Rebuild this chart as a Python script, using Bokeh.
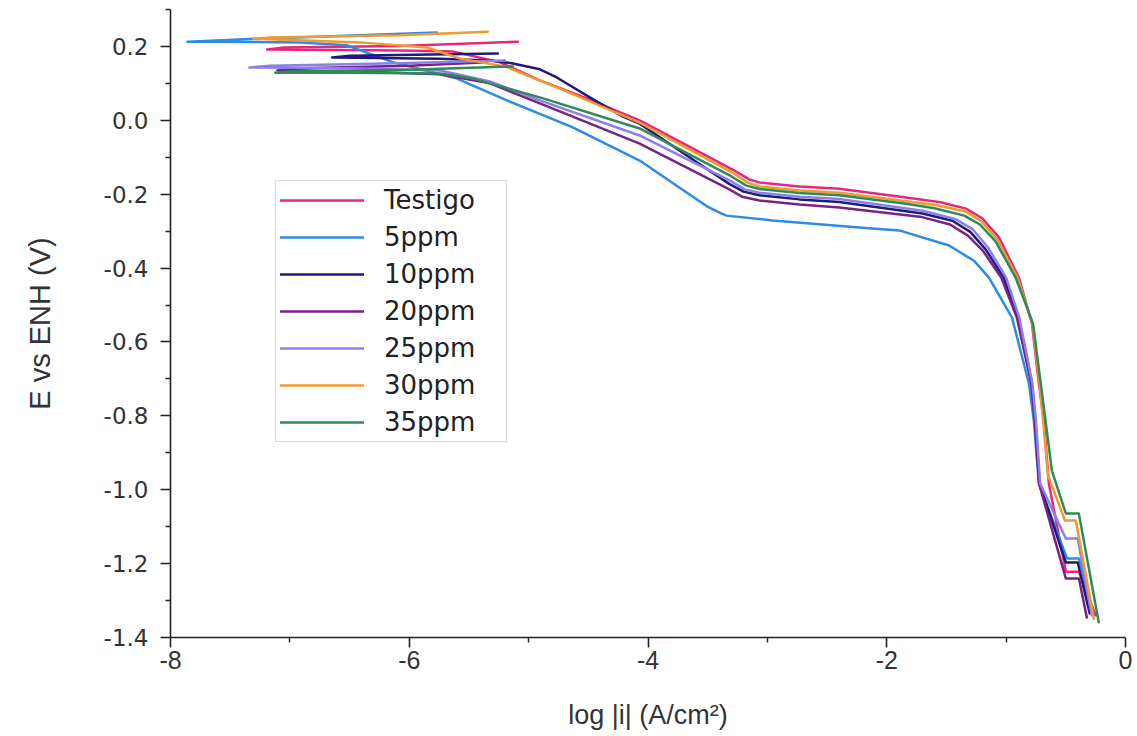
from bokeh.plotting import figure
from bokeh.models import Legend, LegendItem, FixedTicker, CustomJSTickFormatter, Range1d
from bokeh.embed import file_html
from bokeh.resources import INLINE

# ---------------- data (log|i| in A/cm2, E vs ENH in V) ----------------
series_names = ["Testigo", "5ppm", "10ppm", "20ppm", "25ppm", "30ppm", "35ppm"]
series_colors = ["#E5287D", "#2E8BE6", "#1F1A7A", "#7B2087", "#8A80E8", "#F39A2E", "#2E8B57"]

testigo_x = [-0.25, -0.39, -0.50, -0.642, -0.684, -0.726, -0.784, -0.893, -1.06, -1.20,
             -1.336, -1.55, -1.838, -2.398, -2.732, -3.067, -3.151, -3.276, -3.65, -4.07,
             -4.572, -4.906, -5.24, -5.63, -6.08, -7.19, -7.05, -6.08, -5.09]
testigo_y = [-1.34, -1.222, -1.222, -0.983, -0.813, -0.712, -0.550, -0.426, -0.317, -0.265,
             -0.239, -0.222, -0.209, -0.185, -0.179, -0.168, -0.160, -0.136, -0.072, 0.0,
             0.067, 0.108, 0.157, 0.186, 0.189, 0.192, 0.197, 0.201, 0.213]

ppm5_x = [-0.27, -0.39, -0.49, -0.726, -0.768, -0.809, -0.951, -1.144, -1.27, -1.478,
          -1.896, -2.122, -2.958, -3.343, -3.40, -3.51, -4.07, -4.63, -5.182, -5.60,
          -6.135, -6.52, -6.91, -7.858, -7.247, -5.768]
ppm5_y = [-1.34, -1.186, -1.186, -0.983, -0.813, -0.712, -0.534, -0.426, -0.38, -0.339,
          -0.298, -0.293, -0.271, -0.258, -0.250, -0.232, -0.109, -0.019, 0.054, 0.113,
          0.157, 0.203, 0.211, 0.213, 0.221, 0.238]

ppm10_x = [-0.30, -0.40, -0.50, -0.72, -0.755, -0.785, -0.90, -1.02, -1.17, -1.30,
           -1.45, -1.70, -2.398, -2.732, -3.067, -3.20, -3.32, -3.70, -4.07, -4.21,
           -4.488, -4.764, -4.906, -5.132, -5.324, -5.742, -6.645, -6.5, -5.258]
ppm10_y = [-1.335, -1.197, -1.197, -0.983, -0.813, -0.712, -0.534, -0.426, -0.35, -0.302,
           -0.272, -0.252, -0.221, -0.214, -0.203, -0.193, -0.172, -0.09, -0.009, 0.010,
           0.062, 0.116, 0.138, 0.154, 0.162, 0.167, 0.170, 0.175, 0.181]

ppm20_x = [-0.324, -0.39, -0.50, -0.725, -0.76, -0.79, -0.91, -1.04, -1.19, -1.32,
           -1.47, -1.704, -2.398, -2.732, -3.067, -3.21, -3.33, -4.07, -4.906, -5.324,
           -5.742, -6.5, -7.105, -7.0, -6.0, -5.349]
ppm20_y = [-1.346, -1.24, -1.24, -0.983, -0.813, -0.712, -0.534, -0.426, -0.355, -0.312,
           -0.282, -0.262, -0.236, -0.228, -0.217, -0.207, -0.185, -0.063, 0.046, 0.100,
           0.125, 0.133, 0.135, 0.140, 0.148, 0.157]

ppm25_x = [-0.283, -0.40, -0.50, -0.715, -0.75, -0.78, -0.89, -1.00, -1.15, -1.28,
           -1.42, -1.70, -2.398, -2.732, -3.067, -3.19, -3.31, -4.07, -4.906, -5.324,
           -5.742, -6.5, -7.339, -7.16, -6.0, -5.199]
ppm25_y = [-1.34, -1.132, -1.132, -0.983, -0.813, -0.712, -0.534, -0.426, -0.345, -0.295,
           -0.268, -0.245, -0.213, -0.207, -0.196, -0.187, -0.164, -0.041, 0.054, 0.105,
           0.135, 0.141, 0.143, 0.148, 0.155, 0.162]

ppm30_x = [-0.266, -0.416, -0.508, -0.65, -0.69, -0.72, -0.78, -0.905, -1.075, -1.21,
           -1.34, -1.58, -1.838, -2.398, -2.732, -3.067, -3.17, -3.29, -4.07, -4.739,
           -5.2, -5.575, -5.851, -6.411, -7.306, -7.164, -6.077, -5.341]
ppm30_y = [-1.349, -1.083, -1.083, -0.96, -0.813, -0.712, -0.55, -0.426, -0.322, -0.272,
           -0.247, -0.230, -0.219, -0.196, -0.190, -0.179, -0.168, -0.142, -0.006, 0.086,
           0.146, 0.167, 0.197, 0.211, 0.221, 0.224, 0.230, 0.240]

ppm35_x = [-0.224, -0.391, -0.50, -0.617, -0.67, -0.71, -0.775, -0.92, -1.09, -1.22,
           -1.35, -1.60, -1.838, -2.398, -2.732, -3.067, -3.18, -3.30, -4.07, -4.906,
           -5.467, -5.742, -6.5, -7.122, -7.0, -6.0, -5.132]
ppm35_y = [-1.359, -1.064, -1.064, -0.948, -0.813, -0.712, -0.55, -0.426, -0.327, -0.282,
           -0.258, -0.238, -0.226, -0.203, -0.197, -0.186, -0.176, -0.152, -0.022, 0.062,
           0.113, 0.127, 0.129, 0.129, 0.132, 0.137, 0.146]

x_ticks = [-8, -6, -4, -2, 0]
x_minor = [-7, -5, -3, -1]
y_ticks = [0.2, 0.0, -0.2, -0.4, -0.6, -0.8, -1.0, -1.2, -1.4]
y_minor = [0.3, 0.1, -0.1, -0.3, -0.5, -0.7, -0.9, -1.1, -1.3]

x_title = "log |i| (A/cm²)"
y_title = "E vs ENH (V)"

all_x = [testigo_x, ppm5_x, ppm10_x, ppm20_x, ppm25_x, ppm30_x, ppm35_x]
all_y = [testigo_y, ppm5_y, ppm10_y, ppm20_y, ppm25_y, ppm30_y, ppm35_y]

# ---------------- figure ----------------
p = figure(width=1135, height=736, output_backend="svg", toolbar_location=None,
           x_range=Range1d(-8, 0), y_range=Range1d(-1.4, 0.3),
           min_border_left=170, min_border_right=10, min_border_top=9,
           min_border_bottom=99)
p.outline_line_color = None
p.xgrid.visible = False
p.ygrid.visible = False
p.background_fill_color = "white"
p.border_fill_color = "white"

items = []
for name, col, xs, ys in zip(series_names, series_colors, all_x, all_y):
    r = p.line(xs, ys, line_color=col, line_width=2.5, line_join="round", line_cap="round")
    items.append(LegendItem(label=name, renderers=[r]))

# axes
p.xaxis.ticker = FixedTicker(ticks=x_ticks, minor_ticks=x_minor)
p.yaxis.ticker = FixedTicker(ticks=y_ticks, minor_ticks=y_minor)
p.xaxis.formatter = CustomJSTickFormatter(code="return (Math.abs(tick) < 1e-9 ? 0 : tick).toFixed(0);")
p.yaxis.formatter = CustomJSTickFormatter(code="return (Math.abs(tick) < 1e-9 ? 0 : tick).toFixed(1);")

for ax in (p.xaxis[0], p.yaxis[0]):
    ax.axis_line_color = "#222222"
    ax.axis_line_width = 1.6
    ax.major_tick_line_color = "#222222"
    ax.minor_tick_line_color = "#222222"
    ax.major_tick_line_width = 1.6
    ax.minor_tick_line_width = 1.4
    ax.major_tick_in = 0
    ax.minor_tick_in = 0
    ax.major_label_text_color = "#333333"
    ax.axis_label_text_color = "#333333"
    ax.axis_label_text_font_style = "normal"

xa = p.xaxis[0]
xa.major_tick_out = 10
xa.minor_tick_out = 5
xa.major_label_standoff = 3
xa.major_label_text_font = "Liberation Sans"
xa.major_label_text_font_size = "25px"
xa.axis_label = x_title
xa.axis_label_text_font = "Liberation Sans"
xa.axis_label_text_font_size = "27px"
xa.axis_label_standoff = 28

ya = p.yaxis[0]
ya.major_tick_out = 10
ya.minor_tick_out = 5
ya.major_label_standoff = 12
ya.major_label_text_font = "DejaVu Sans"
ya.major_label_text_font_size = "23px"
ya.axis_label = y_title
ya.axis_label_text_font = "Liberation Sans"
ya.axis_label_text_font_size = "29px"
ya.axis_label_standoff = 45

legend = Legend(items=items, location=(105, 195), orientation="vertical",
                glyph_width=84, glyph_height=26, label_height=26, label_width=118,
                spacing=7, padding=4, margin=0, label_standoff=20,
                label_text_font="DejaVu Sans", label_text_font_size="26px",
                label_text_color="#222222",
                border_line_color="#b4b4b4", border_line_width=1,
                background_fill_color="white", background_fill_alpha=1.0)
p.add_layout(legend, "center")

open("out.html", "w").write(file_html(p, INLINE))
